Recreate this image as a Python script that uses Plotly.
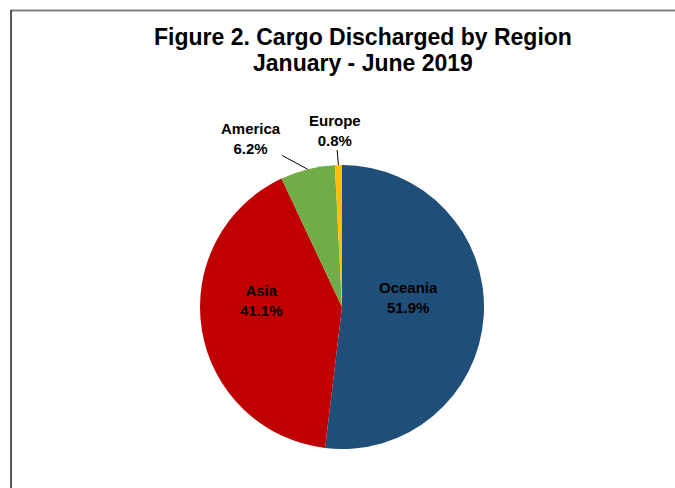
import math
import plotly.graph_objects as go

regions = ["Oceania", "Asia", "America", "Europe"]
shares = [51.9, 41.1, 6.2, 0.8]
colors = ["#1F4E79", "#C00000", "#70AD47", "#FFC000"]
title_lines = ["Figure 2. Cargo Discharged by Region", "January - June 2019"]

W, H = 675, 488
cx, cy, r = 342, 307, 142  # pie center / radius in pixels
FONT = "Liberation Sans, Arial"

fig = go.Figure()
fig.add_trace(go.Pie(
    labels=regions,
    values=shares,
    sort=False,
    direction="clockwise",
    rotation=0,
    marker=dict(colors=colors, line=dict(width=0)),
    textinfo="none",
    hoverinfo="label+percent",
    domain=dict(x=[(cx - r) / W, (cx + r) / W], y=[1 - (cy + r) / H, 1 - (cy - r) / H]),
    showlegend=False,
))

# label placement (pixel offsets from pie centre); small slices get leader lines
inside_pos = {"Oceania": (66, -10), "Asia": (-81, -7)}
leader_offsets = {"America": (-57, -31), "Europe": (-3, -35)}
total = sum(shares)
cum = 0
annotations = []
for name, v in zip(regions, shares):
    mid = (cum + v / 2) / total * 2 * math.pi
    cum += v
    text = f"<b>{name}<br>{v:.1f}%</b>"
    font = dict(family=FONT, size=15, color="black")
    if name in inside_pos:
        dx, dy = inside_pos[name]
        annotations.append(dict(
            x=(cx + dx) / W, y=1 - (cy + dy) / H, xref="paper", yref="paper",
            xanchor="center", yanchor="middle", text=text, showarrow=False, font=font,
        ))
    else:
        px = cx + r * math.sin(mid)
        py = cy - r * math.cos(mid)
        ax, ay = leader_offsets[name]
        annotations.append(dict(
            x=px / W, y=1 - py / H, xref="paper", yref="paper",
            text=text, showarrow=True, arrowhead=0, arrowwidth=1, arrowcolor="black",
            ax=ax, ay=ay, standoff=0, font=font,
        ))

# title as two tightly spaced lines
for line, yc in zip(title_lines, [37, 63]):
    annotations.append(dict(
        x=363 / W, y=1 - yc / H, xref="paper", yref="paper",
        xanchor="center", yanchor="middle", showarrow=False,
        text=f"<b>{line}</b>", font=dict(family=FONT, size=23, color="black"),
    ))

fig.update_layout(
    width=W, height=H,
    margin=dict(l=0, r=0, t=0, b=0),
    paper_bgcolor="white", plot_bgcolor="white",
    showlegend=False,
    annotations=annotations,
    shapes=[
        dict(type="line", xref="paper", yref="paper", x0=11 / W, x1=1.02, y0=1 - 10.5 / H, y1=1 - 10.5 / H,
             line=dict(color="#808080", width=2)),
        dict(type="line", xref="paper", yref="paper", x0=11 / W, x1=11 / W, y0=1 - 10 / H, y1=-0.02,
             line=dict(color="#202020", width=1.5)),
    ],
)

fig.write_html(
    "out.html", config={"displayModeBar": False, "staticPlot": True},
    post_script=("document.documentElement.style.overflow='hidden';"
                 "document.body.style.margin='0px';document.body.style.overflow='hidden';"),
)
